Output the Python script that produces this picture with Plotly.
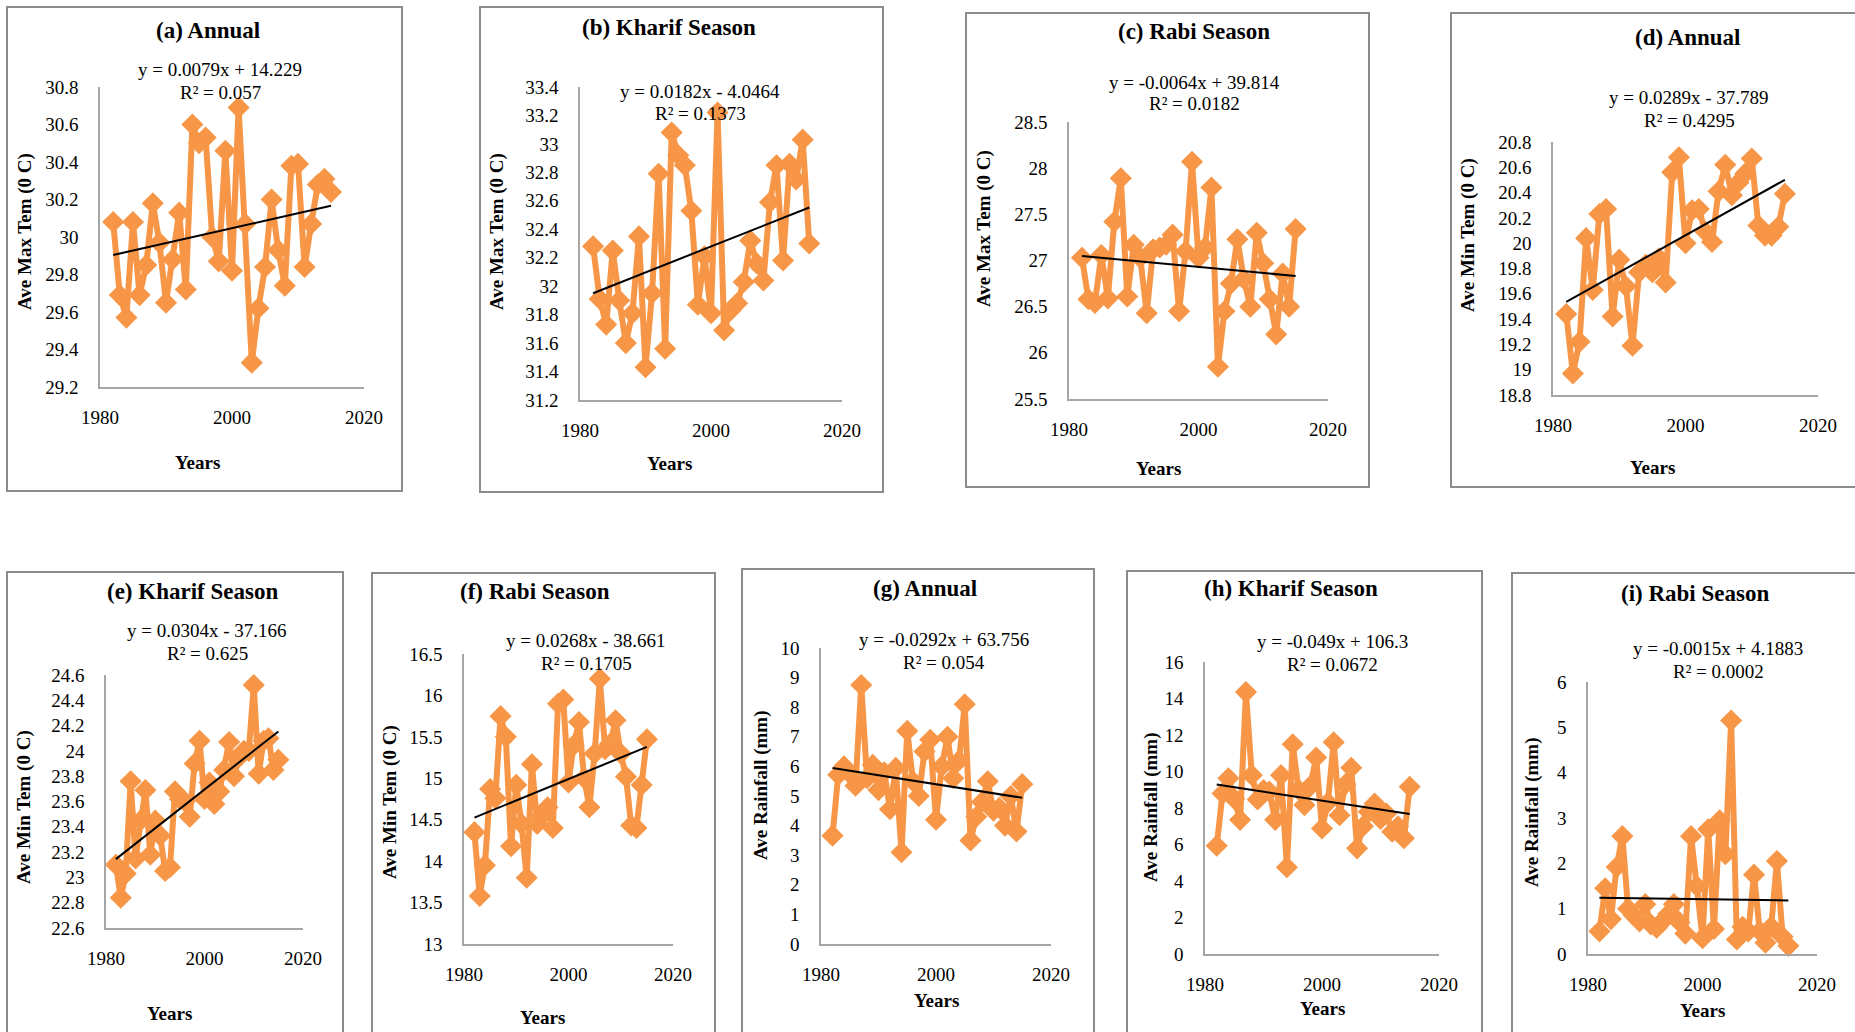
import numpy as np
import plotly.graph_objects as go

years = list(range(1982, 2016))

# (a) Annual max temperature
a_max_annual = [30.08, 29.69, 29.57, 30.08, 29.69, 29.85, 30.18, 29.97, 29.65, 29.88,
                30.13, 29.72, 30.60, 30.50, 30.53, 30.00, 29.87, 30.46, 29.82, 30.69,
                30.07, 29.33, 29.62, 29.84, 30.20, 29.93, 29.74, 30.38, 30.39, 29.84,
                30.07, 30.28, 30.31, 30.24]
# (b) Kharif max temperature
b_max_kharif = [32.28, 31.91, 31.73, 32.25, 31.90, 31.60, 31.81, 32.35, 31.43, 31.95,
                32.79, 31.56, 33.08, 32.92, 32.85, 32.53, 31.87, 32.21, 31.81, 33.22,
                31.69, 31.83, 31.88, 32.03, 32.32, 32.16, 32.04, 32.59, 32.85, 32.18,
                32.86, 32.75, 33.03, 32.30]
# (c) Rabi max temperature
c_max_rabi = [27.03, 26.58, 26.54, 27.06, 26.59, 27.42, 27.89, 26.61, 27.17, 27.03,
              26.43, 27.12, 27.14, 27.17, 27.28, 26.45, 27.10, 28.07, 27.03, 27.14,
              27.79, 25.85, 26.45, 26.75, 27.23, 26.80, 26.50, 27.30, 26.97, 26.58,
              26.20, 26.86, 26.50, 27.34]
# (d) Annual min temperature
d_min_annual = [19.44, 18.97, 19.22, 20.04, 19.63, 20.23, 20.27, 19.42, 19.87, 19.66,
                19.19, 19.77, 19.83, 19.77, 19.88, 19.69, 20.56, 20.68, 20.00, 20.26,
                20.27, 20.09, 20.01, 20.41, 20.62, 20.38, 20.48, 20.55, 20.67, 20.14,
                20.06, 20.06, 20.13, 20.39]
# (e) Kharif min temperature
e_min_kharif = [23.10, 22.84, 23.03, 23.76, 23.15, 23.45, 23.69, 23.18, 23.45, 23.33,
                23.05, 23.08, 23.68, 23.62, 23.60, 23.48, 23.90, 24.08, 23.62, 23.75,
                23.58, 23.68, 23.85, 24.07, 23.80, 23.95, 24.00, 24.00, 24.52, 23.82,
                24.08, 24.10, 23.85, 23.93]
# (f) Rabi min temperature
f_min_rabi = [14.35, 13.58, 13.95, 14.87, 14.76, 15.75, 15.50, 14.18, 14.92, 14.45,
              13.80, 15.17, 14.45, 14.55, 14.65, 14.40, 15.90, 15.95, 14.95, 15.40,
              15.68, 15.00, 14.65, 15.30, 16.20, 15.35, 15.42, 15.70, 15.30, 15.02,
              14.43, 14.40, 14.92, 15.47]
# (g) Annual rainfall
g_rain_annual = [3.66, 5.72, 6.00, 5.75, 5.35, 8.75, 5.60, 6.05, 5.20, 5.80,
                 4.55, 5.95, 3.10, 7.20, 5.50, 5.00, 6.50, 6.90, 4.20, 6.00,
                 7.00, 5.60, 6.20, 8.10, 3.50, 4.30, 4.80, 5.50, 4.50, 4.60,
                 4.00, 5.00, 3.80, 5.40]
# (h) Kharif rainfall
h_rain_kharif = [5.93, 8.80, 9.63, 8.50, 7.35, 14.35, 9.80, 8.47, 8.98, 8.90,
                 7.35, 9.80, 4.75, 11.49, 9.00, 8.16, 9.20, 10.77, 6.88, 8.30,
                 11.60, 7.60, 9.30, 10.20, 5.79, 7.00, 7.80, 8.25, 7.40, 7.70,
                 6.70, 7.00, 6.34, 9.16]
# (i) Rabi rainfall
i_rain_rabi = [0.50, 1.45, 0.77, 1.92, 2.60, 1.00, 0.85, 0.72, 1.10, 0.65,
               0.58, 0.72, 0.88, 1.10, 0.70, 0.45, 2.60, 1.50, 0.35, 2.75,
               0.55, 2.95, 2.20, 5.15, 0.32, 0.60, 0.50, 1.75, 0.50, 0.25,
               0.60, 2.05, 0.38, 0.18]

titles = ["(a) Annual", "(b) Kharif Season", "(c) Rabi Season", "(d) Annual",
          "(e) Kharif Season", "(f) Rabi Season", "(g) Annual", "(h) Kharif Season",
          "(i) Rabi Season"]
y_titles = ["Ave Max Tem (0 C)", "Ave Max Tem (0 C)", "Ave Max Tem (0 C)",
            "Ave Min Tem (0 C)", "Ave Min Tem (0 C)", "Ave Min Tem (0 C)",
            "Ave Rainfall (mm)", "Ave Rainfall (mm)", "Ave Rainfall (mm)"]
equations = ["y = 0.0079x + 14.229", "y = 0.0182x - 4.0464", "y = -0.0064x + 39.814",
             "y = 0.0289x - 37.789", "y = 0.0304x - 37.166", "y = 0.0268x - 38.661",
             "y = -0.0292x + 63.756", "y = -0.049x + 106.3", "y = -0.0015x + 4.1883"]
r_squared = ["R² = 0.057", "R² = 0.1373", "R² = 0.0182", "R² = 0.4295", "R² = 0.625",
             "R² = 0.1705", "R² = 0.054", "R² = 0.0672", "R² = 0.0002"]
y_ranges = [(29.2, 30.8, 0.2), (31.2, 33.4, 0.2), (25.5, 28.5, 0.5), (18.8, 20.8, 0.2),
            (22.6, 24.6, 0.2), (13, 16.5, 0.5), (0, 10, 1), (0, 16, 2), (0, 6, 1)]
x_ticks = [1980, 2000, 2020]
series = [a_max_annual, b_max_kharif, c_max_rabi, d_min_annual, e_min_kharif,
          f_min_rabi, g_rain_annual, h_rain_kharif, i_rain_rabi]

# ---- layout geometry (pixels) ----
W, H = 1855, 1032
boxes = [(7, 7, 402, 491), (480, 7, 883, 492), (966, 13, 1369, 487), (1451, 13, 1875, 487),
         (7, 572, 343, 1050), (372, 573, 715, 1050), (742, 569, 1094, 1050),
         (1127, 571, 1482, 1050), (1512, 573, 1875, 1050)]
plots = [(100, 87, 364, 387), (580, 87, 842, 400), (1069, 122, 1328, 399),
         (1553, 142, 1818, 395), (106, 675, 303, 928), (464, 654, 673, 944),
         (821, 648, 1051, 944), (1205, 662, 1439, 954), (1588, 682, 1817, 954)]
title_pos = [(208, 30), (669, 27), (1194, 31), (1687, 38), (192, 591), (535, 591),
             (925, 588), (1291, 588), (1695, 593)]
eq_pos = [(220, 69), (700, 91), (1194, 82), (1689, 98), (207, 630), (586, 640),
          (944, 639), (1332, 641), (1718, 648)]
r2_pos = [(220, 92), (700, 114), (1194, 104), (1689, 121), (207, 653), (586, 663),
          (944, 662), (1332, 664), (1718, 671)]
ytitle_pos = [(25, 232), (497, 232), (984, 229), (1468, 235), (24, 807), (390, 802),
              (761, 785), (1151, 807), (1532, 812)]
years_pos = [(197, 462), (669, 463), (1158, 469), (1652, 468), (169, 1013), (542, 1017),
             (936, 1000), (1322, 1008), (1702, 1010)]

FONT = "Liberation Serif"
ORANGE = "#F79646"
AXIS_GRAY = "#A6A6A6"
BOX_GRAY = "#8C8C8C"

def px(x):
    return x / W

def py(y):
    return 1 - y / H

fig = go.Figure()
annotations = []
shapes = []
layout_axes = {}

def ann(text, pos, size, bold=False, angle=0):
    t = f"<b>{text}</b>" if bold else text
    annotations.append(dict(text=t, x=px(pos[0]), y=py(pos[1]), xref="paper",
                            yref="paper", showarrow=False, xanchor="center",
                            yanchor="middle", textangle=angle,
                            font=dict(family=FONT, size=size, color="black")))

for i in range(9):
    n = "" if i == 0 else str(i + 1)
    xref, yref = "x" + n, "y" + n
    vals = series[i]
    fig.add_trace(go.Scatter(
        x=years, y=vals, mode="lines+markers", xaxis=xref, yaxis=yref,
        line=dict(color=ORANGE, width=6),
        marker=dict(symbol="diamond", size=17, color=ORANGE),
        cliponaxis=False, showlegend=False, hoverinfo="x+y"))
    slope, intercept = np.polyfit(years, vals, 1)
    tx = np.array([years[0], years[-1]], dtype=float)
    fig.add_trace(go.Scatter(
        x=tx, y=slope * tx + intercept, mode="lines", xaxis=xref, yaxis=yref,
        line=dict(color="black", width=2), showlegend=False, hoverinfo="skip"))

    x0, y0, x1, y1 = plots[i]
    lo, hi, step = y_ranges[i]
    yt = np.round(np.arange(lo, hi + step / 2, step), 6)
    layout_axes["xaxis" + n] = dict(
        domain=[px(x0), px(x1)], anchor=yref, range=[1980, 2020], automargin=False,
        tickmode="array", tickvals=x_ticks, ticktext=[str(t) for t in x_ticks],
        showline=True, linecolor=AXIS_GRAY, linewidth=1.5, showgrid=False,
        zeroline=False, ticks="", ticklabelstandoff=12,
        tickfont=dict(family=FONT, size=19, color="black"))
    layout_axes["yaxis" + n] = dict(
        domain=[py(y1), py(y0)], anchor=xref, range=[lo, hi], automargin=False,
        tickmode="array", tickvals=list(yt), ticktext=[f"{v:g}" for v in yt],
        showline=True, linecolor=AXIS_GRAY, linewidth=1.5, showgrid=False,
        zeroline=False, ticks="", ticklabelstandoff=16,
        tickfont=dict(family=FONT, size=19, color="black"))

    bx0, by0, bx1, by1 = boxes[i]
    shapes.append(dict(type="rect", xref="paper", yref="paper",
                       x0=px(bx0), x1=px(bx1), y0=py(by1), y1=py(by0),
                       line=dict(color=BOX_GRAY, width=2), fillcolor="rgba(0,0,0,0)",
                       layer="below"))

    ann(titles[i], title_pos[i], 23, bold=True)
    ann(equations[i], eq_pos[i], 19)
    ann(r_squared[i], r2_pos[i], 19)
    ann(y_titles[i], ytitle_pos[i], 19, bold=True, angle=-90)
    ann("Years", years_pos[i], 19, bold=True)

fig.update_layout(
    width=W, height=H, margin=dict(l=0, r=0, t=0, b=0, pad=0, autoexpand=False),
    paper_bgcolor="white", plot_bgcolor="white",
    annotations=annotations, shapes=shapes, showlegend=False,
    font=dict(family=FONT, color="black"),
    **layout_axes)

fig.write_html(
    "out.html",
    config={"displayModeBar": False},
    post_script="document.body.style.margin='0';document.body.style.overflow='hidden';")
